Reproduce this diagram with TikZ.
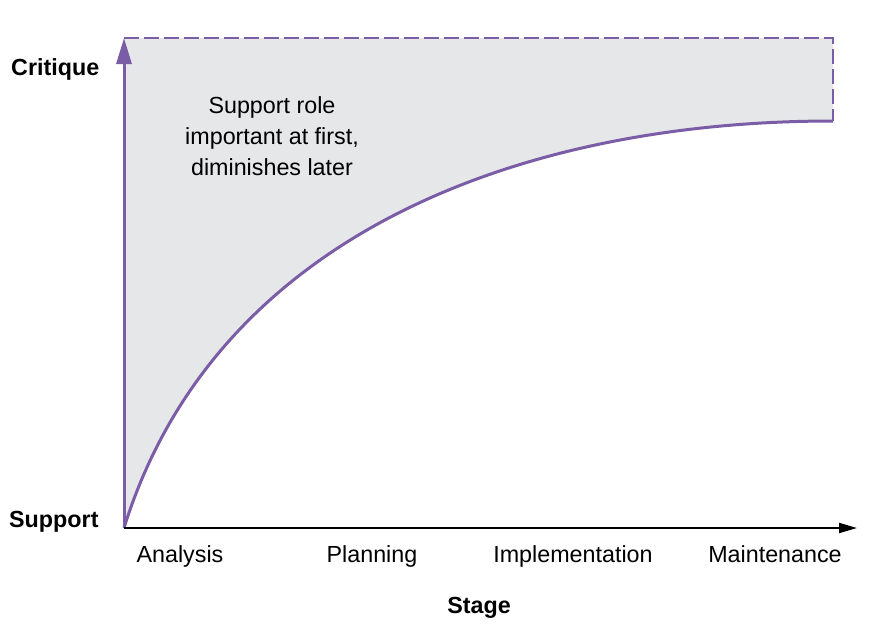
\documentclass[tikz,border=0pt]{standalone}
\usepackage{fontspec}
\setmainfont{Liberation Sans}
\usetikzlibrary{arrows.meta}
\definecolor{curvepurple}{HTML}{7A5DA6}
\definecolor{areagray}{HTML}{E6E7E8}
\begin{document}
\begin{tikzpicture}[x=1pt,y=-1pt,
  lbl/.style={font=\fontsize{23.3}{31}\selectfont, inner sep=0pt},
  blbl/.style={font=\fontsize{23.3}{31}\selectfont\bfseries, inner sep=0pt},
  purpleline/.style={draw=curvepurple, line width=3pt},
  dashline/.style={draw=curvepurple, line width=2.5pt, dash pattern=on 15pt off 5pt},
  axisline/.style={draw=black, line width=2pt}]
\useasboundingbox (0,0) rectangle (873,627);
\coordinate (O) at (124,528);
\coordinate (T) at (124,38);
\coordinate (TR) at (833,38);
\coordinate (E) at (833,121);
\coordinate (R) at (857,528);
\coordinate (C1) at (215,235);
\coordinate (C2) at (520,121);
% shaded area
\fill[areagray] (O) .. controls (C1) and (C2) .. (E) -- (TR) -- (T) -- cycle;
% dashed bounds
\draw[dashline] (T) -- (TR) -- (E);
% curve
\draw[purpleline] (O) .. controls (C1) and (C2) .. (E);
% vertical axis
\draw[purpleline, -{Triangle[length=26pt,width=15pt]}] (O) -- (T);
% horizontal axis
\draw[axisline, -{Triangle[length=18pt,width=10pt]}] (O) -- (R);
% labels
\node[blbl, anchor=base west] (critique) at (11,75) {Critique};
\node[blbl, anchor=base west] (support) at (9,527) {Support};
\node[blbl, anchor=base] (stage) at (479,613) {Stage};
\node[lbl, anchor=base] (analysis) at (180,562) {Analysis};
\node[lbl, anchor=base] (planning) at (372,562) {Planning};
\node[lbl, anchor=base] (impl) at (573,562) {Implementation};
\node[lbl, anchor=base] (maint) at (775,562) {Maintenance};
\node[lbl, align=center] (note) at (272,136) {Support role\\important at first,\\diminishes later};
\end{tikzpicture}
\end{document}
